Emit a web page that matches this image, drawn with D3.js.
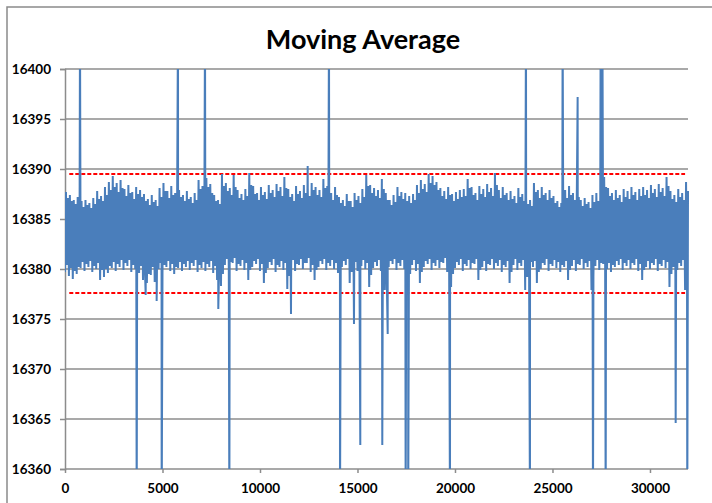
<!DOCTYPE html>
<html>
<head>
<meta charset="utf-8">
<script src="https://cdn.jsdelivr.net/npm/d3@7/dist/d3.min.js"></script>
<style>
  html, body { margin: 0; padding: 0; background: #fff; }
  svg { display: block; }
</style>
</head>
<body>
<svg id="chart" width="712" height="503"></svg>
<script>
// Moving average readings: a high and a low value for every 100-sample block
// (lows sit at the start of a block, highs at its midpoint).
const blockSize = 100;
const highs = [
  16387.7, 16387.1, 16387.4, 16386.8, 16386.9, 16386.5, 16387.2, 16386.7, 16386.8, 16386.2, 16386.9, 16386.4, 16386.6, 16386.1, 16387.1, 16386.5, 16387.8, 16387.0, 16387.3, 16386.8,
  16388.2, 16387.4, 16388.7, 16387.9, 16389.3, 16388.2, 16388.6, 16387.7, 16388.9, 16388.1, 16388.0, 16387.3, 16388.4, 16387.6, 16387.7, 16387.0, 16388.2, 16387.5, 16387.9, 16387.2,
  16387.5, 16386.8, 16387.0, 16386.4, 16387.4, 16386.7, 16386.9, 16386.3, 16388.1, 16387.2, 16388.6, 16387.8, 16387.8, 16387.1, 16388.3, 16387.4, 16387.6, 16386.9, 16387.9, 16387.2,
  16387.4, 16386.8, 16387.8, 16387.0, 16387.2, 16386.6, 16387.6, 16386.9, 16388.9, 16388.0, 16388.3, 16387.5, 16389.1, 16388.2, 16388.5, 16387.6, 16387.4, 16386.8, 16386.9, 16386.5,
  16389.5, 16388.3, 16388.6, 16387.8, 16388.1, 16387.4, 16389.4, 16388.2, 16387.9, 16387.1, 16387.5, 16386.9, 16388.0, 16387.3, 16389.6, 16388.4, 16388.3, 16387.5, 16387.6, 16386.9,
  16388.2, 16387.4, 16387.7, 16387.0, 16388.4, 16387.6, 16387.9, 16387.2, 16388.5, 16387.8, 16388.2, 16387.3, 16389.2, 16388.1, 16388.0, 16387.2, 16387.5, 16386.8, 16388.3, 16387.5,
  16387.8, 16387.1, 16388.4, 16387.6, 16388.1, 16387.3, 16388.6, 16387.9, 16388.2, 16387.4, 16387.9, 16387.2, 16389.0, 16388.1, 16388.3, 16387.5, 16387.6, 16386.9, 16388.2, 16387.4,
  16387.2, 16386.6, 16386.9, 16386.3, 16387.5, 16386.8, 16386.8, 16386.2, 16387.6, 16386.9, 16387.3, 16386.6, 16388.0, 16387.2, 16389.4, 16388.3, 16388.4, 16387.6, 16388.1, 16387.3,
  16387.9, 16387.1, 16389.0, 16388.0, 16387.6, 16386.9, 16386.9, 16386.4, 16387.4, 16386.7, 16388.2, 16387.3, 16387.7, 16387.0, 16387.6, 16386.8, 16387.3, 16386.6, 16387.5, 16386.9,
  16388.4, 16387.6, 16388.9, 16388.0, 16388.5, 16387.7, 16389.5, 16388.6, 16389.3, 16388.4, 16388.7, 16387.9, 16388.1, 16387.3, 16387.8, 16387.0, 16388.2, 16387.4, 16387.5, 16386.8,
  16387.7, 16387.0, 16387.9, 16387.2, 16388.0, 16387.3, 16389.0, 16388.1, 16388.2, 16387.4, 16387.6, 16386.9, 16388.3, 16387.5, 16388.0, 16387.2, 16388.5, 16387.7, 16388.1, 16387.3,
  16389.6, 16388.4, 16387.9, 16387.1, 16388.2, 16387.4, 16387.6, 16386.9, 16387.8, 16387.0, 16387.3, 16386.6, 16388.1, 16387.2, 16387.5, 16386.8, 16387.1, 16386.5, 16386.9, 16386.3,
  16388.6, 16387.7, 16387.9, 16387.1, 16388.2, 16387.4, 16387.6, 16386.9, 16387.9, 16387.1, 16387.3, 16386.6, 16386.8, 16386.2, 16386.6, 16386.0, 16387.9, 16387.1, 16388.3, 16387.4,
  16387.6, 16386.9, 16388.0, 16387.2, 16386.9, 16386.3, 16387.1, 16386.5, 16386.7, 16386.1, 16387.4, 16386.7, 16387.6, 16386.8, 16387.2, 16386.6, 16389.2, 16388.2, 16388.1, 16387.3,
  16387.6, 16386.9, 16387.9, 16387.1, 16387.4, 16386.7, 16388.0, 16387.2, 16387.8, 16387.0, 16388.2, 16387.4, 16387.7, 16386.9, 16388.0, 16387.3, 16388.2, 16387.4, 16387.9, 16387.1,
  16388.4, 16387.6, 16388.0, 16387.2, 16388.5, 16387.7, 16388.1, 16387.3, 16389.2, 16388.3, 16387.8, 16387.0, 16387.4, 16386.7, 16388.0, 16387.2, 16387.6, 16386.9, 16388.7, 16387.8
];
const lows = [
  16379.7, 16380.4, 16379.3, 16380.1, 16379.0, 16379.8, 16379.5, 16380.2, 16380.1, 16380.7, 16379.8, 16380.5, 16380.2, 16380.8, 16379.7, 16380.3, 16380.0, 16380.6, 16378.9, 16379.9,
  16379.2, 16380.0, 16379.6, 16380.3, 16380.1, 16380.7, 16379.8, 16380.5, 16380.2, 16380.9, 16379.9, 16380.6, 16380.3, 16380.9, 16379.7, 16380.4, 16380.0, 16380.7, 16379.6, 16380.3,
  16378.9, 16379.8, 16378.6, 16379.5, 16379.4, 16380.2, 16378.7, 16379.6, 16380.0, 16380.6, 16379.7, 16380.4, 16380.2, 16380.8, 16379.8, 16380.5, 16379.5, 16380.2, 16380.1, 16380.7,
  16379.8, 16380.5, 16380.2, 16380.8, 16379.9, 16380.6, 16380.3, 16380.9, 16379.7, 16380.4, 16380.1, 16380.7, 16379.8, 16380.5, 16380.2, 16380.8, 16379.6, 16380.3, 16378.9, 16379.8,
  16378.3, 16379.5, 16380.4, 16381.0, 16380.0, 16380.7, 16380.6, 16381.1, 16379.8, 16380.5, 16380.3, 16380.9, 16379.9, 16380.6, 16378.9, 16379.9, 16380.2, 16380.8, 16380.5, 16381.0,
  16379.8, 16380.5, 16378.6, 16379.6, 16380.1, 16380.7, 16380.4, 16381.0, 16379.7, 16380.4, 16380.2, 16380.8, 16379.9, 16380.6, 16378.0, 16379.3, 16380.3, 16380.9, 16379.8, 16380.5,
  16380.4, 16381.0, 16380.0, 16380.6, 16380.6, 16381.1, 16379.7, 16380.4, 16378.9, 16379.9, 16380.2, 16380.8, 16380.5, 16381.0, 16379.9, 16380.6, 16380.3, 16380.9, 16380.0, 16380.6,
  16379.6, 16380.3, 16380.2, 16380.8, 16380.4, 16381.0, 16378.6, 16379.7, 16380.1, 16380.7, 16379.8, 16380.5, 16380.3, 16380.9, 16380.0, 16380.6, 16378.2, 16379.4, 16380.1, 16380.7,
  16380.3, 16380.9, 16379.8, 16380.5, 16377.9, 16379.2, 16380.2, 16380.8, 16380.5, 16381.0, 16379.9, 16380.6, 16380.3, 16380.9, 16380.0, 16380.6, 16378.2, 16379.5, 16380.4, 16380.9,
  16379.8, 16380.5, 16378.6, 16379.7, 16380.2, 16380.8, 16380.5, 16381.0, 16379.9, 16380.6, 16380.3, 16380.9, 16380.1, 16380.7, 16380.6, 16381.1, 16379.7, 16380.4, 16378.2, 16379.5,
  16380.1, 16380.7, 16380.4, 16381.0, 16379.8, 16380.5, 16380.3, 16380.9, 16380.0, 16380.6, 16380.5, 16381.0, 16378.9, 16379.9, 16380.2, 16380.8, 16379.8, 16380.5, 16380.4, 16381.0,
  16380.0, 16380.6, 16380.3, 16380.9, 16379.7, 16380.4, 16380.2, 16380.8, 16378.6, 16379.7, 16380.4, 16381.0, 16379.9, 16380.6, 16380.3, 16380.9, 16377.9, 16379.2, 16380.1, 16380.7,
  16380.2, 16380.8, 16378.6, 16379.7, 16380.0, 16380.6, 16380.4, 16381.0, 16379.8, 16380.5, 16380.3, 16380.9, 16380.1, 16380.7, 16379.7, 16380.4, 16380.2, 16380.8, 16378.9, 16379.9,
  16380.3, 16380.9, 16379.8, 16380.5, 16380.4, 16381.0, 16380.0, 16380.6, 16380.2, 16380.8, 16377.9, 16379.2, 16380.3, 16380.9, 16379.9, 16380.6, 16380.5, 16381.0, 16380.0, 16380.6,
  16379.7, 16380.4, 16380.2, 16380.8, 16380.4, 16381.0, 16379.9, 16380.6, 16380.3, 16380.9, 16380.0, 16380.6, 16380.4, 16381.0, 16379.8, 16380.5, 16378.9, 16379.9, 16380.2, 16380.8,
  16380.0, 16380.6, 16380.4, 16381.0, 16379.8, 16380.5, 16380.3, 16380.9, 16380.1, 16380.7, 16378.2, 16379.5, 16380.2, 16380.8, 16379.9, 16380.6, 16380.3, 16380.9, 16377.9, 16379.3
];
// Isolated outliers: [sample, value]
const spikes = [
  [769, 16405], [3676, 16355], [4138, 16377.4], [4700, 16376.8], [4958, 16355],
  [5795, 16405], [7180, 16405], [7862, 16376.0], [8430, 16355], [11590, 16375.5],
  [12446, 16390.3], [13538, 16405], [14103, 16355], [14820, 16374.5], [15144, 16362.4],
  [16272, 16362.4], [16549, 16373.5], [17470, 16355], [17600, 16355], [19744, 16355],
  [23640, 16405], [23846, 16355], [25520, 16405], [26290, 16397.2], [27077, 16355],
  [27470, 16405], [27560, 16405], [27728, 16355], [31318, 16364.6], [31913, 16355]
];
// Control limits
const upperLimit = [[220, 16389.5], [31800, 16389.5]];
const lowerLimit = [[220, 16377.6], [31800, 16377.6]];

const yTicks = [16360, 16365, 16370, 16375, 16380, 16385, 16390, 16395, 16400];
const xTicks = [0, 5000, 10000, 15000, 20000, 25000, 30000];
const chartTitle = "Moving Average";

const margin = { left: 65, top: 69, right: 688, bottom: 469 };
const svg = d3.select("#chart");

const x = d3.scaleLinear().domain([0, 31950]).range([margin.left, margin.right]);
const y = d3.scaleLinear().domain([16360, 16400]).range([margin.bottom, margin.top]);

const gridColor = "#8c8c8c";
const labelFont = "Lato, 'Open Sans', sans-serif";

// Frame
svg.append("rect")
  .attr("x", 7).attr("y", 7).attr("width", 740).attr("height", 540)
  .attr("fill", "#fff").attr("stroke", "#8a8a8a").attr("stroke-width", 1.5);

// Title
svg.append("text")
  .attr("x", 363).attr("y", 49)
  .attr("text-anchor", "middle")
  .style("font-family", labelFont).style("font-weight", 700).style("font-size", "27px")
  .attr("fill", "#000")
  .text(chartTitle);

// Horizontal gridlines
svg.append("g").selectAll("line").data(yTicks).join("line")
  .attr("x1", margin.left).attr("x2", margin.right)
  .attr("y1", d => y(d)).attr("y2", d => y(d))
  .attr("stroke", gridColor).attr("stroke-width", 1.5);

// Y axis
const yAxis = svg.append("g")
  .attr("transform", `translate(${margin.left},0)`)
  .call(d3.axisLeft(y).tickValues(yTicks).tickSize(5).tickPadding(9).tickFormat(d3.format("d")));
yAxis.select(".domain").attr("stroke", gridColor).attr("stroke-width", 1.5);
yAxis.selectAll(".tick line").attr("stroke", gridColor).attr("stroke-width", 1.5);
yAxis.selectAll(".tick text")
  .style("font-family", labelFont).style("font-weight", 700).style("font-size", "13.5px")
  .attr("fill", "#000");

// X axis
const xAxis = svg.append("g")
  .attr("transform", `translate(0,${margin.bottom})`)
  .call(d3.axisBottom(x).tickValues(xTicks).tickSize(4).tickPadding(10).tickFormat(d3.format("d")));
xAxis.select(".domain").remove();
xAxis.selectAll(".tick line").attr("stroke", gridColor).attr("stroke-width", 1.5);
xAxis.selectAll(".tick text")
  .style("font-family", labelFont).style("font-weight", 700).style("font-size", "13.5px")
  .attr("fill", "#000");

// Series assembled from the block readings and the outliers
const series = [];
highs.forEach((h, i) => {
  series.push({ x: i * blockSize, y: lows[i] });
  series.push({ x: i * blockSize + blockSize / 2, y: h });
});
spikes.forEach(([sx, sy]) => series.push({ x: sx, y: sy }));
series.sort((a, b) => a.x - b.x);

svg.append("clipPath").attr("id", "plot-clip")
  .append("rect")
  .attr("x", margin.left).attr("y", margin.top)
  .attr("width", margin.right - margin.left + 2).attr("height", margin.bottom - margin.top);

const line = d3.line().x(d => x(d.x)).y(d => y(d.y));

// Control limit lines (dashed red)
const limitLine = d3.line().x(d => x(d[0])).y(d => y(d[1]));
[upperLimit, lowerLimit].forEach(lim => {
  svg.append("path")
    .attr("d", limitLine(lim))
    .attr("fill", "none").attr("stroke", "#ff0000")
    .attr("stroke-width", 2).attr("stroke-dasharray", "4,2");
});

svg.append("path")
  .attr("clip-path", "url(#plot-clip)")
  .attr("d", line(series))
  .attr("fill", "none")
  .attr("stroke", "#4a7ebb")
  .attr("stroke-width", 2)
  .attr("stroke-linejoin", "miter");
</script>
</body>
</html>
